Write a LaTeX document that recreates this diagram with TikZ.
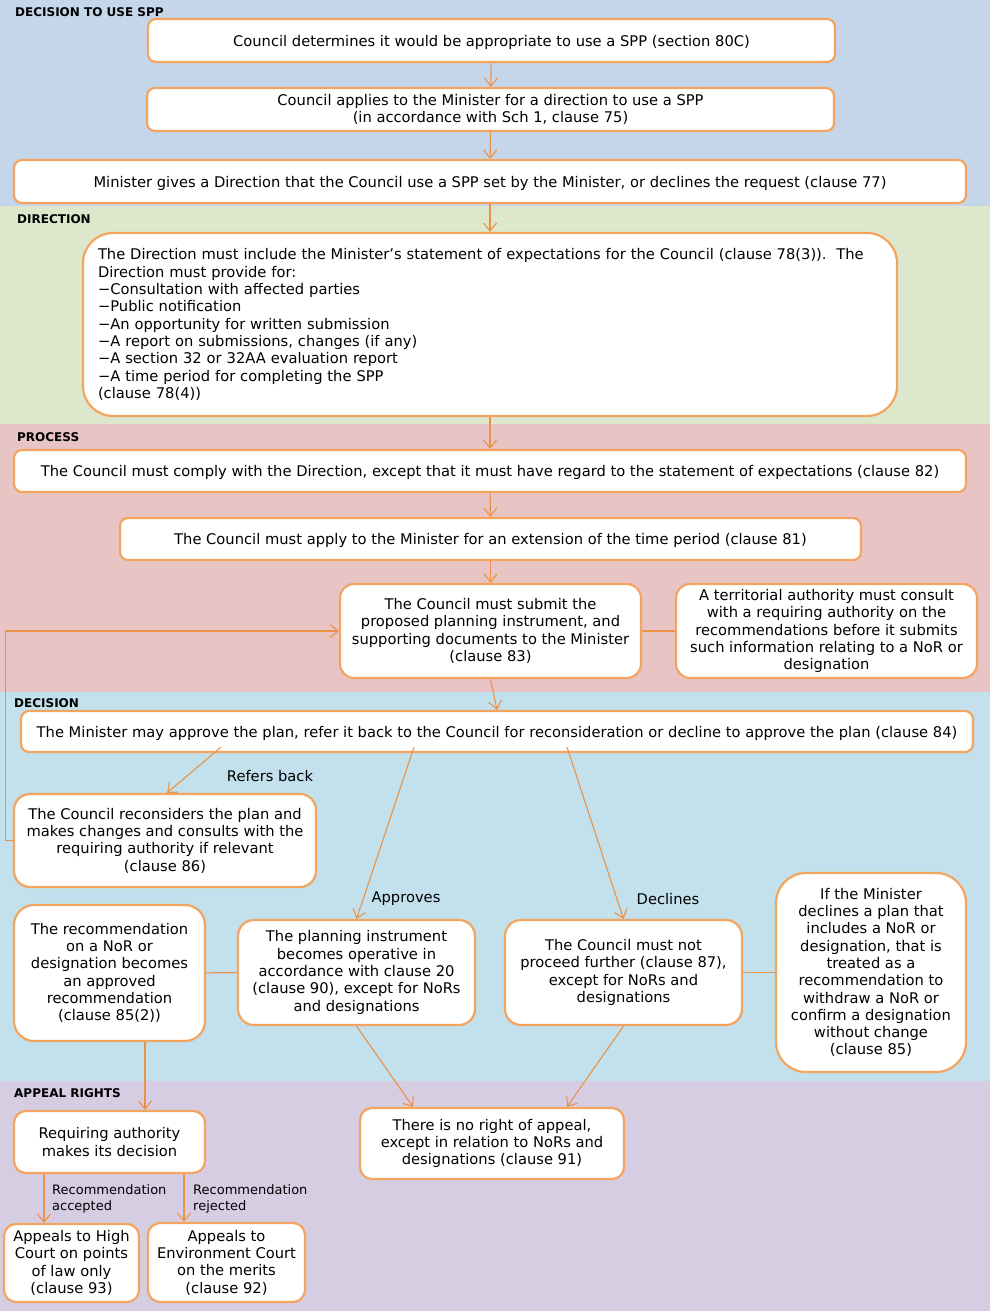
\documentclass[tikz,border=0pt]{standalone}
\usepackage{fontspec}
\setmainfont{DejaVu Sans}
\usetikzlibrary{arrows.meta}
\definecolor{bandA}{RGB}{197,214,234}
\definecolor{bandB}{RGB}{221,231,204}
\definecolor{bandC}{RGB}{233,196,196}
\definecolor{bandD}{RGB}{194,225,236}
\definecolor{bandE}{RGB}{214,205,227}
\definecolor{boxline}{RGB}{243,165,95}
\definecolor{arrowline}{RGB}{234,146,72}

\begin{document}
\begin{tikzpicture}[x=1pt,y=-1pt,
  >={Straight Barb[length=8pt,width=13pt]},
  every node/.style={font=\fontsize{14.7}{17.3}\selectfont},
  box/.style={draw=boxline, line width=2.2pt, fill=white, rounded corners=8pt, align=center, inner sep=0pt},
  oneline/.style={text depth=0pt},
  link/.style={draw=arrowline, line width=1.1pt},
  head/.style={anchor=west, inner sep=0pt, font=\bfseries\fontsize{12}{14}\selectfont},
  small/.style={anchor=west, align=left, inner sep=0pt, font=\fontsize{13}{15.5}\selectfont}]
\useasboundingbox (0,0) rectangle (990,1311);

% bands
\fill[bandA] (0,0) rectangle (990,206);
\fill[bandB] (0,206) rectangle (990,424);
\fill[bandC] (0,424) rectangle (990,692);
\fill[bandD] (0,692) rectangle (990,1081);
\fill[bandE] (0,1081) rectangle (990,1311);

\node[head] (H1) at (15,12) {DECISION TO USE SPP};
\node[head] (H2) at (17,219) {DIRECTION};
\node[head] (H3) at (17,437) {PROCESS};
\node[head] (H4) at (14,703) {DECISION};
\node[head] (H5) at (14,1093) {APPEAL RIGHTS};

% decision to use SPP
\node[box, oneline, minimum width=687, minimum height=43] (A) at (491.5,40.5) {Council determines it would be appropriate to use a SPP (section 80C)};
\node[box, minimum width=687, minimum height=43] (B) at (490.5,109.5) {Council applies to the Minister for a direction to use a SPP\\(in accordance with Sch 1, clause 75)};
\node[box, oneline, minimum width=952, minimum height=43] (C) at (490,181.5) {Minister gives a Direction that the Council use a SPP set by the Minister, or declines the request (clause 77)};

% direction
\node[box, rounded corners=30pt, minimum width=814, minimum height=183, text width=784, align=left] (D) at (490,324.5) {The Direction must include the Minister’s statement of expectations for the Council (clause 78(3)).\ \ The\\Direction must provide for:\\−Consultation with affected parties\\−Public notification\\−An opportunity for written submission\\−A report on submissions, changes (if any)\\−A section 32 or 32AA evaluation report\\−A time period for completing the SPP\\(clause 78(4))};

% process
\node[box, oneline, minimum width=952, minimum height=42] (E) at (490,471) {The Council must comply with the Direction, except that it must have regard to the statement of expectations (clause 82)};
\node[box, oneline, minimum width=741, minimum height=42] (F) at (490.5,539) {The Council must apply to the Minister for an extension of the time period (clause 81)};
\node[box, rounded corners=14pt, minimum width=301, minimum height=94] (G) at (490.5,631) {The Council must submit the\\proposed planning instrument, and\\supporting documents to the Minister\\(clause 83)};
\node[box, rounded corners=14pt, minimum width=301, minimum height=94] (H) at (826.5,631) {A territorial authority must consult\\with a requiring authority on the\\recommendations before it submits\\such information relating to a NoR or\\designation};

% decision
\node[box, oneline, minimum width=952, minimum height=41] (I) at (497,731.5) {The Minister may approve the plan, refer it back to the Council for reconsideration or decline to approve the plan (clause 84)};
\node[box, rounded corners=16pt, minimum width=302, minimum height=93] (J) at (165,840.5) {The Council reconsiders the plan and\\makes changes and consults with the\\requiring authority if relevant\\(clause 86)};
\node[box, rounded corners=20pt, minimum width=191, minimum height=136] (K) at (109.5,973) {The recommendation\\on a NoR or\\designation becomes\\an approved\\recommendation\\(clause 85(2))};
\node[box, rounded corners=16pt, minimum width=237, minimum height=105] (L) at (356.5,972.5) {The planning instrument\\becomes operative in\\accordance with clause 20\\(clause 90), except for NoRs\\and designations};
\node[box, rounded corners=16pt, minimum width=237, minimum height=105] (M) at (623.5,972.5) {The Council must not\\proceed further (clause 87),\\except for NoRs and\\designations};
\node[box, rounded corners=30pt, minimum width=190, minimum height=199] (N) at (871,972.5) {If the Minister\\declines a plan that\\includes a NoR or\\designation, that is\\treated as a\\recommendation to\\withdraw a NoR or\\confirm a designation\\without change\\(clause 85)};

% appeal rights
\node[box, rounded corners=12pt, minimum width=191, minimum height=62] (O) at (109.5,1142) {Requiring authority\\makes its decision};
\node[box, rounded corners=12pt, minimum width=264, minimum height=71] (P) at (492,1143.5) {There is no right of appeal,\\except in relation to NoRs and\\designations (clause 91)};
\node[box, rounded corners=12pt, minimum width=135, minimum height=78] (Q) at (71.5,1263) {Appeals to High\\Court on points\\of law only\\(clause 93)};
\node[box, rounded corners=12pt, minimum width=157, minimum height=79] (R) at (226.5,1262.5) {Appeals to\\Environment Court\\on the merits\\(clause 92)};

\node (refers) at (270,776) {Refers back};
\node (approves) at (406,899) {Approves};
\node (declines) at (668,899) {Declines};
\node[small] (accepted) at (52,1199) {Recommendation\\accepted};
\node[small] (rejected) at (193,1199) {Recommendation\\rejected};

\draw[link, ->] (A) -- (B);
\draw[link, ->] (B) -- (C);
\draw[link, ->] (C) -- (D);
\draw[link, ->] (D) -- (E);
\draw[link, ->] (E) -- (F);
\draw[link, ->] (F) -- (G);
\draw[link] (G) -- (H);
\draw[link, ->] (G.south) -- (I.north);

\draw[link, ->] ([xshift=-276,yshift=6]I.south) -- ([xshift=2]J.north);
\draw[link, ->] ([xshift=-83,yshift=6]I.south) -- (L.north);
\draw[link, ->] ([xshift=70,yshift=6]I.south) -- (M.north);
\draw[link, ->] (J.west) -- ++(-7.5,0) |- (G.west);

\draw[link] (K) -- (L);
\draw[link] (M) -- (N);
\draw[link, ->] ([xshift=35.5]K.south) -- ([xshift=35.5]O.north);
\draw[link, ->] (L.south) -- ([xshift=-79]P.north);
\draw[link, ->] (M.south) -- ([xshift=75]P.north);

\draw[link, ->] ([xshift=-65.5]O.south) -- ([xshift=-65.5]O.south |- Q.north);
\draw[link, ->] ([xshift=74.5]O.south) -- ([xshift=74.5]O.south |- R.north);
\end{tikzpicture}
\end{document}
